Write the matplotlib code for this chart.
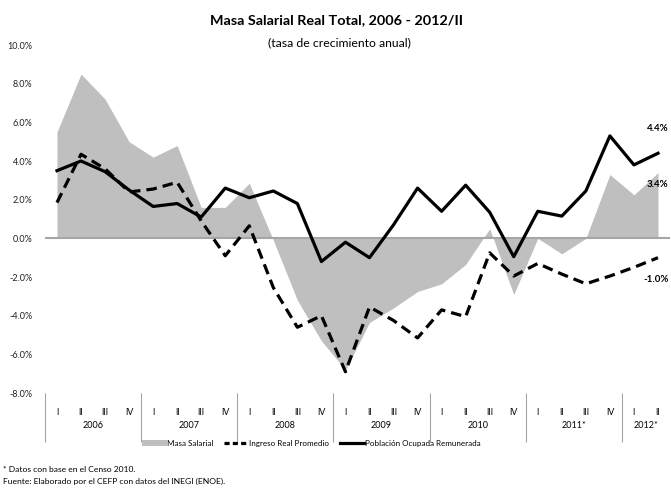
import matplotlib
matplotlib.use('Agg')
import matplotlib.pyplot as plt
from matplotlib.lines import Line2D
from matplotlib.patches import Patch
import numpy as np

plt.rcParams['font.family'] = ['Lato', 'DejaVu Sans']

# ---------------- data (tasa de crecimiento anual, %) ----------------
quarters = ['I', 'II', 'III', 'IV'] * 6 + ['I', 'II']
years = ['2006', '2007', '2008', '2009', '2010', '2011*', '2012*']
year_len = [4, 4, 4, 4, 4, 4, 2]

masa = [5.5, 8.5, 7.2, 5.0, 4.2, 4.8, 1.6, 1.6, 2.85, -0.1, -3.2, -5.3, -6.8,
        -4.35, -3.6, -2.75, -2.35, -1.35, 0.5, -2.9, 0.0, -0.8, 0.0, 3.3, 2.25, 3.4]
ingreso = [1.85, 4.35, 3.6, 2.4, 2.55, 2.9, 0.9, -0.9, 0.65, -2.55, -4.6, -4.0, -6.9,
           -3.55, -4.25, -5.15, -3.7, -4.05, -0.75, -1.95, -1.3, -1.85, -2.35, -1.95, -1.5, -1.0]
poblacion = [3.5, 4.0, 3.45, 2.5, 1.65, 1.8, 1.1, 2.6, 2.1, 2.45, 1.8, -1.2, -0.2,
             -1.0, 0.7, 2.6, 1.4, 2.75, 1.35, -0.95, 1.4, 1.15, 2.45, 5.3, 3.8, 4.4]

x = np.arange(len(quarters))

fig = plt.figure(figsize=(6.71, 4.92), dpi=100)
ax = fig.add_axes([0.067, 0.2012, 0.9315, 0.7073])

gray = '#BFBFBF'
ax.fill_between(x, masa, 0, color=gray, lw=0, zorder=1)
ax.axhline(0, color='#A6A6A6', lw=1.5, zorder=2)
ax.plot(x, ingreso, color='black', lw=2.3, dashes=(3.3, 1.9), zorder=3)
ax.plot(x, poblacion, color='black', lw=2.3, zorder=4)

ax.set_xlim(-0.5, len(quarters) - 0.5)
ax.set_ylim(-8, 10)
ax.set_yticks(np.arange(-8, 10.1, 2))
ax.set_yticklabels([f'{v:.1f}%' for v in np.arange(-8, 10.1, 2)])
ax.tick_params(axis='y', length=0, pad=9, labelsize=6.5, labelcolor='#222222')

ax.set_xticks(x)
ax.set_xticklabels(quarters)
ax.tick_params(axis='x', which='major', length=0, pad=11, labelsize=6.3)
bounds = np.cumsum([0] + year_len[:-1]) - 0.5
ax.set_xticks(bounds, minor=True)
ax.tick_params(axis='x', which='minor', length=35, width=0.8, color='#A6A6A6')

for sp in ax.spines.values():
    sp.set_visible(False)

start = 0
for yr, n in zip(years, year_len):
    ax.text(start + (n - 1) / 2, -0.092, yr, transform=ax.get_xaxis_transform(),
            ha='center', va='center', fontsize=6.5)
    start += n

# end labels
ax.text(25.45, poblacion[-1] + 1.3, f'{poblacion[-1]:.1f}%', ha='right', va='center',
        fontsize=7, fontweight='bold')
ax.text(25.45, masa[-1] - 0.6, f'{masa[-1]:.1f}%', ha='right', va='center',
        fontsize=7, fontweight='bold')
ax.text(25.45, ingreso[-1] - 1.15, f'{ingreso[-1]:.1f}%', ha='right', va='center',
        fontsize=7, fontweight='bold')

fig.text(0.502, 0.959, 'Masa Salarial Real Total, 2006 - 2012/II', ha='center',
         va='center', fontsize=10.4, fontweight='bold')
fig.text(0.506, 0.913, '(tasa de crecimiento anual)', ha='center', va='center',
         fontsize=8.8)

handles = [Patch(facecolor=gray, edgecolor='none'),
           Line2D([], [], color='black', lw=2.3, dashes=(1.6, 1.0)),
           Line2D([], [], color='black', lw=2.3)]
labels = ['Masa Salarial', 'Ingreso Real Promedio', 'Población Ocupada Remunerada']
fig.legend(handles, labels, ncol=3, loc='center', bbox_to_anchor=(0.464, 0.099),
           frameon=False, fontsize=5.8, handlelength=3.0, handletextpad=0.1,
           columnspacing=1.3, handleheight=0.9)

fig.text(0.004, 0.046, '* Datos con base en el Censo 2010.', fontsize=6.1, va='center')
fig.text(0.004, 0.022, 'Fuente: Elaborado por el CEFP con datos del INEGI (ENOE).',
         fontsize=6.1, va='center')

fig.savefig('out.png', dpi=100)
